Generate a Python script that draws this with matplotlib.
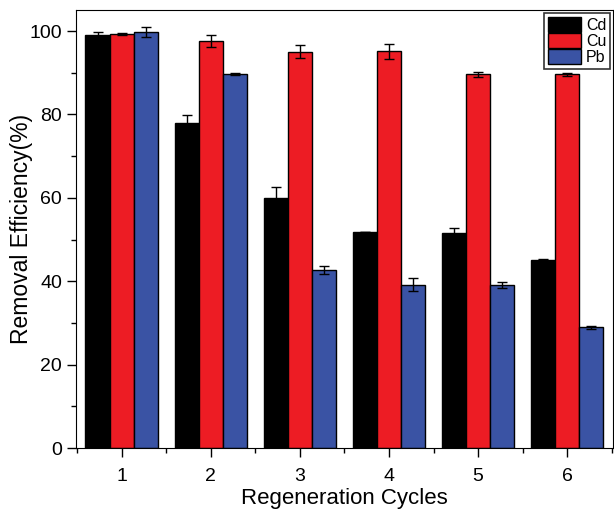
import numpy as np
import matplotlib
matplotlib.use('Agg')
import matplotlib.pyplot as plt
from matplotlib.ticker import MultipleLocator

plt.rcParams['font.family'] = ['Liberation Sans', 'DejaVu Sans']

# Data
cycles = [1, 2, 3, 4, 5, 6]
cd = [99.1, 78.0, 60.0, 51.9, 51.7, 45.2]
cd_err = [0.7, 1.8, 2.6, 0.0, 1.0, 0.2]
cu = [99.3, 97.6, 95.1, 95.2, 89.6, 89.6]
cu_err = [0.2, 1.4, 1.5, 1.8, 0.6, 0.3]
pb = [99.8, 89.7, 42.7, 39.2, 39.2, 29.0]
pb_err = [1.2, 0.2, 1.0, 1.6, 0.7, 0.4]

x = np.array(cycles)
w = 0.27

fig = plt.figure(figsize=(6.14, 5.11), dpi=100)
ax = fig.add_axes([0.124, 0.123, 0.874, 0.857])

err_kw = dict(elinewidth=1, capsize=3.5, capthick=1, ecolor='black')
ax.bar(x - w, cd, w, yerr=cd_err, color='black', edgecolor='black',
       linewidth=1, label='Cd', error_kw=err_kw)
ax.bar(x, cu, w, yerr=cu_err, color='#ED1C24', edgecolor='black',
       linewidth=1, label='Cu', error_kw=err_kw)
ax.bar(x + w, pb, w, yerr=pb_err, color='#3A53A4', edgecolor='black',
       linewidth=1, label='Pb', error_kw=err_kw)

ax.set_xlim(0.49, 6.51)
ax.set_ylim(0, 105)
ax.set_xticks(cycles)
ax.xaxis.set_minor_locator(MultipleLocator(0.5))
ax.yaxis.set_major_locator(MultipleLocator(20))
ax.yaxis.set_minor_locator(MultipleLocator(10))
ax.tick_params(which='major', direction='out', length=6.5, width=1, labelsize=14)
ax.tick_params(which='minor', direction='out', length=3.5, width=1)
ax.tick_params(axis='x', which='major', pad=8)

ax.set_xlabel('Regeneration Cycles', fontsize=16)
ax.set_ylabel('Removal Efficiency(%)', fontsize=16.5)
ax.xaxis.set_label_coords(0.5, -0.09)
ax.yaxis.set_label_coords(-0.08, 0.5)

leg = ax.legend(loc='upper right', fontsize=11.5, frameon=True, fancybox=False,
                edgecolor='black', handlelength=2.1, handleheight=1.1,
                handletextpad=0.3, labelspacing=0.0, borderpad=0.25,
                borderaxespad=0.15)
leg.get_frame().set_linewidth(1.2)

fig.savefig('out.png', dpi=100)
